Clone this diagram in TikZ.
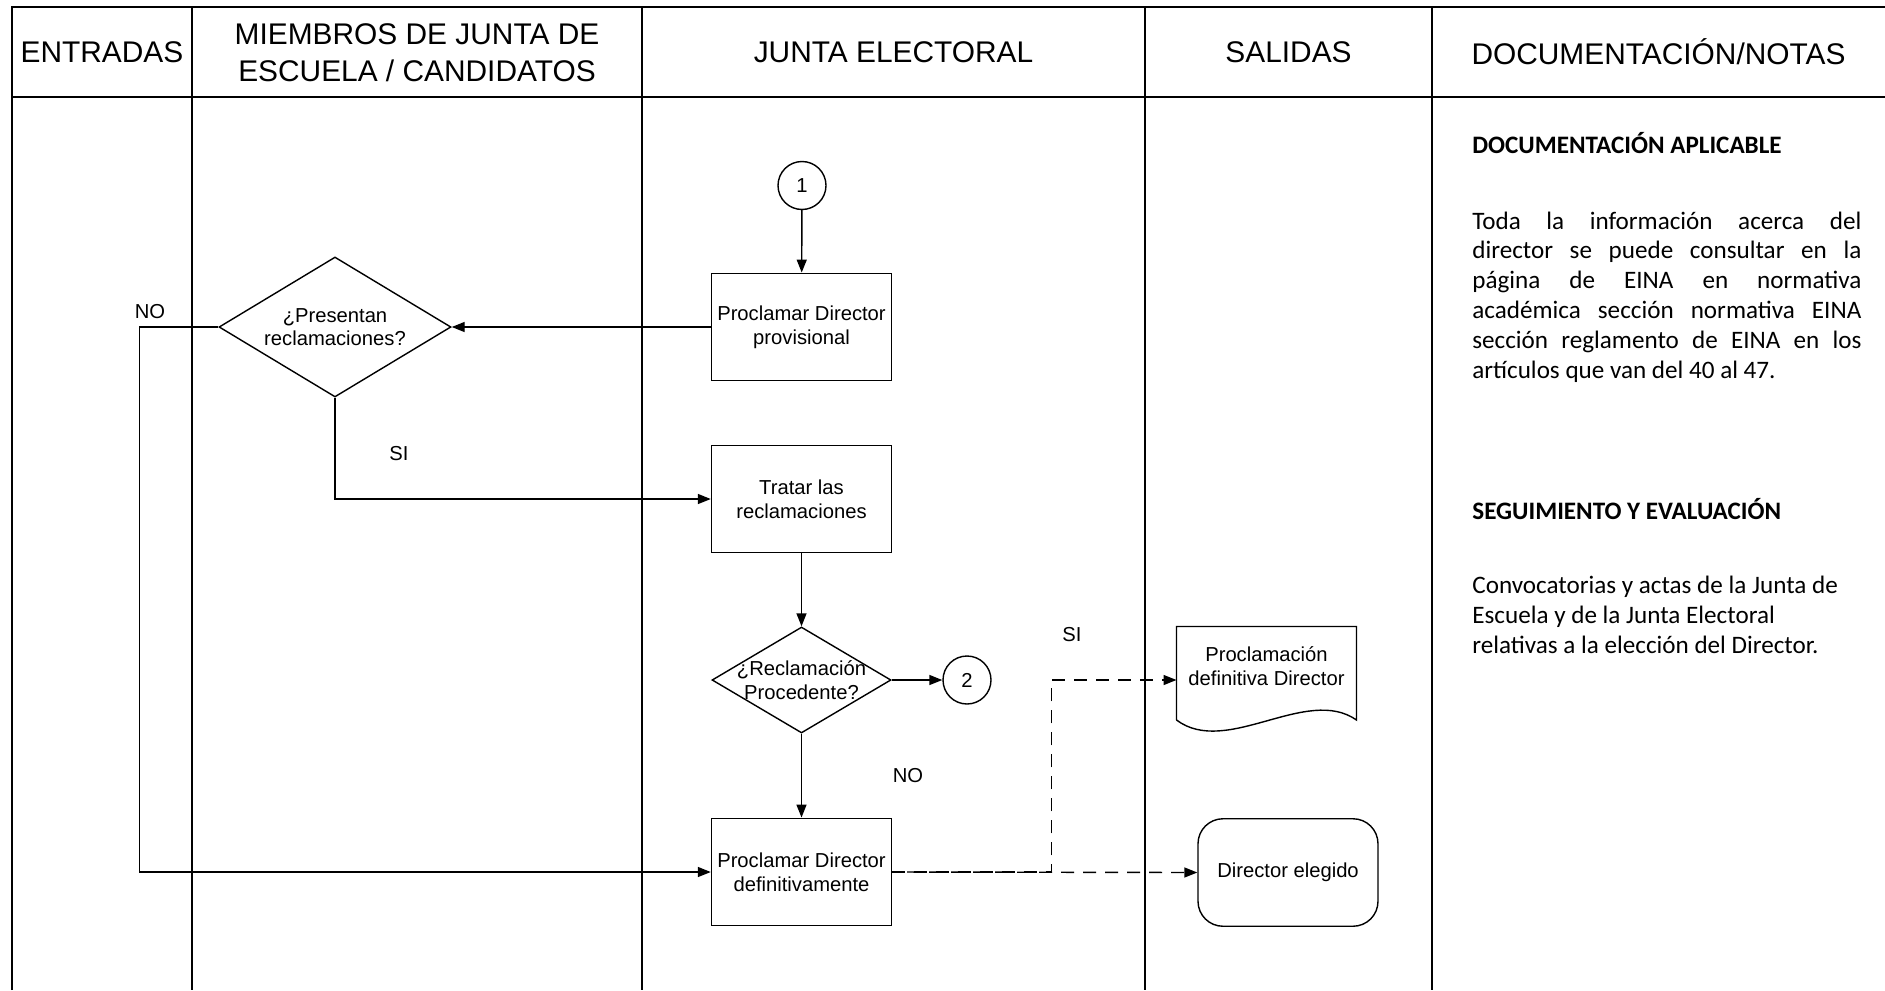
\documentclass[tikz,border=0pt]{standalone}
\usepackage{fontspec}
\setmainfont{Liberation Sans}
\newfontfamily\notesfont{Carlito}
\usepackage{tikz}
\usetikzlibrary{arrows.meta,positioning,shapes.geometric,calc}
\tikzset{
  box/.style={draw, rectangle, align=center, font=\fontsize{11.5}{13.4}\selectfont, minimum width=3.6cm, minimum height=2.15cm, inner sep=1mm, line width=0.8pt},
  decision/.style={draw, diamond, aspect=1.66, align=center, font=\fontsize{11.5}{13.4}\selectfont, inner sep=0pt, line width=0.8pt},
  conn/.style={draw, circle, minimum size=0.96cm, inner sep=0pt, font=\fontsize{11.5}{13.4}\selectfont, line width=0.8pt},
  head/.style={align=center, font=\fontsize{17}{21}\selectfont},
  lbl/.style={font=\fontsize{11.5}{13.4}\selectfont},
  note/.style={anchor=west, inner sep=0pt, font=\notesfont\fontsize{14.3}{17}\selectfont},
  notehead/.style={note, font=\notesfont\bfseries\fontsize{14.3}{17}\selectfont},
  lane/.style={line width=1.1pt},
  arr/.style={-{Triangle[length=2.6mm,width=2mm]}, line width=0.8pt},
  dasharr/.style={arr, dash pattern=on 2.6mm off 1.8mm}
}

\begin{document}
\begin{tikzpicture}
\useasboundingbox (0,0) rectangle (37.7,-19.8);

% swimlanes
\draw[lane] (0.24,-19.8) -- (0.24,-0.14) -- (37.7,-0.14);
\draw[lane] (0.24,-1.94) -- (37.7,-1.94);
\foreach \x in {3.84,12.84,22.9,28.64}
  \draw[lane] (\x,-0.14) -- (\x,-19.8);

\node[head] (hEnt) at (2.04,-1.04) {ENTRADAS};
\node[head] (hMiem) at (8.34,-1.06) {MIEMBROS DE JUNTA DE\\ESCUELA / CANDIDATOS};
\node[head] (hJunta) at (17.87,-1.04) {JUNTA ELECTORAL};
\node[head] (hSal) at (25.77,-1.04) {SALIDAS};
\node[head] (hDoc) at (33.17,-1.04) {DOCUMENTACIÓN/NOTAS};

% flow
\node[conn] (c1) at (16.04,-3.71) {1};
\node[box] (prov) at (16.03,-6.54) {Proclamar Director\\provisional};
\node[decision, minimum width=4.64cm, minimum height=2.8cm] (pres) at (6.70,-6.54) {¿Presentan\\reclamaciones?};
\node[box] (trat) at (16.03,-9.98) {Tratar las\\reclamaciones};
\node[decision, inner xsep=-5mm, minimum width=3.58cm, minimum height=2.12cm] (rec) at (16.03,-13.6) {¿Reclamación\\Procedente?};
\node[conn] (c2) at (19.34,-13.6) {2};
\node[box] (defi) at (16.03,-17.44) {Proclamar Director\\definitivamente};

% outputs
\draw[line width=0.8pt] (23.53,-14.4) -- (23.53,-12.53) -- (27.13,-12.53) -- (27.13,-14.4)
  .. controls (26.13,-13.7) and (24.53,-15.15) .. (23.53,-14.4);
\node[lbl, align=center] (docu) at (25.33,-13.32) {Proclamación\\definitiva Director};
\node[box, rounded corners=0.5cm] (elegido) at (25.76,-17.45) {Director elegido};

\node[lbl] (no1) at (3.0,-6.24) {NO};
\node[lbl] (si1) at (7.98,-9.08) {SI};
\node[lbl] (no2) at (18.16,-15.52) {NO};
\node[lbl] (si2) at (21.44,-12.69) {SI};

\coordinate (noTurn) at (2.79,-6.54);
\coordinate (split) at (21.03,-17.44);
\coordinate (docIn) at (23.53,-13.6);

\draw[arr] (c1) -- (prov);
\draw[arr] (prov) -- (pres);
\draw[arr] (pres.west) -- (noTurn) |- (defi.west);
\draw[arr] (pres.south) |- (trat.west);
\draw[arr] (trat) -- (rec);
\draw[arr] (rec) -- (c2);
\draw[arr] (rec) -- (defi);
\draw[dasharr] (defi.east) -- (split) |- (docIn);
\draw[dasharr, dash phase=1.4mm] (defi.east) -- (elegido.west);

% notes
\node[notehead] (docHead) at (29.44,-2.86) {DOCUMENTACIÓN APLICABLE};
\node[note, text width=7.78cm, align=justify] (docText) at (29.44,-5.94) {\tolerance=10000 Toda la información acerca del\linebreak director se puede consultar en la\linebreak página de EINA en normativa\linebreak académica sección normativa EINA\linebreak sección reglamento de EINA en los\linebreak artículos que van del 40 al 47.};
\node[notehead] (segHead) at (29.44,-10.18) {SEGUIMIENTO Y EVALUACIÓN};
\node[note, align=left] (segText) at (29.44,-12.29) {Convocatorias y actas de la Junta de\\Escuela y de la Junta Electoral\\relativas a la elección del Director.};
\end{tikzpicture}
\end{document}
